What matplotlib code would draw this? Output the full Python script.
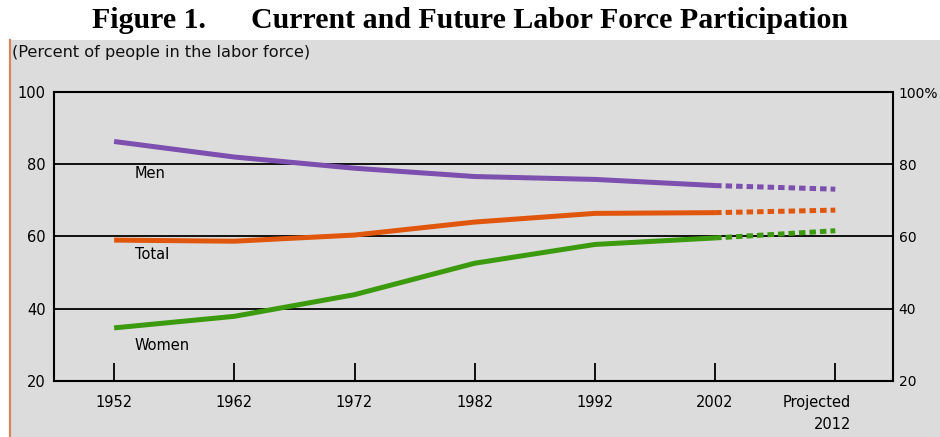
import matplotlib
matplotlib.use("Agg")
import matplotlib.pyplot as plt
from matplotlib.patches import Rectangle
from matplotlib.lines import Line2D

# data
years = [1952, 1962, 1972, 1982, 1992, 2002]
proj_years = [2002, 2012]
men = [86.3, 82.0, 78.9, 76.6, 75.8, 74.1]
men_proj = [74.1, 73.1]
total = [59.0, 58.7, 60.4, 64.0, 66.4, 66.6]
total_proj = [66.6, 67.3]
women = [34.7, 37.9, 43.9, 52.6, 57.8, 59.6]
women_proj = [59.6, 61.6]

xtick_pos = [1952, 1962, 1972, 1982, 1992, 2002, 2012]
xtick_labels = ["1952", "1962", "1972", "1982", "1992", "2002", ""]
proj_label = "Projected\n2012"
yticks = [20, 40, 60, 80, 100]
left_labels = ["20", "40", "60", "80", "100"]
right_labels = ["20", "40", "60", "80", "100%"]

c_men = "#7d4fae"
c_total = "#e0560c"
c_women = "#3c9a0e"
bg = "#dcdcdc"
sans = ["DejaVu Sans"]

fig = plt.figure(figsize=(9.4, 4.37), dpi=100)
fig.patch.set_facecolor("white")

# gray panel with orange left rule (behind the axes)
fig.patches.append(Rectangle((10 / 940, 0), 1, 397 / 437, transform=fig.transFigure,
                             facecolor=bg, edgecolor="none", zorder=-5))
fig.lines.append(Line2D([9.5 / 940, 9.5 / 940], [0, 397 / 437], transform=fig.transFigure,
                        color="#d9875a", lw=1.6, zorder=-4))

fig.text(0.5, 0.953, "Figure 1.      Current and Future Labor Force Participation",
         ha="center", va="center", fontsize=21.5, fontweight="bold",
         family=["Liberation Serif", "DejaVu Serif"])
fig.text(12 / 940, 0.881, "(Percent of people in the labor force)", ha="left", va="center",
         fontsize=11.6, family=sans, color="#111111")

ax = fig.add_axes([54 / 940, 56 / 437, 839 / 940, 289 / 437])
ax.set_facecolor(bg)
ax.set_xlim(1947, 2016.8)
ax.set_ylim(20, 100)

for y in [40, 60, 80]:
    ax.axhline(y, color="black", lw=1.3, zorder=1)

lw = 3.6
ax.plot(years, men, color=c_men, lw=lw, solid_capstyle="butt", zorder=3)
ax.plot(years, total, color=c_total, lw=lw, solid_capstyle="butt", zorder=3)
ax.plot(years, women, color=c_women, lw=lw, solid_capstyle="butt", zorder=3)
for yy, c in [(men_proj, c_men), (total_proj, c_total), (women_proj, c_women)]:
    ax.plot(proj_years, yy, color=c, lw=lw, dashes=(1.3, 0.8), dash_capstyle="butt", zorder=3)

ax.text(1953.7, 77.5, "Men", fontsize=10.5, family=sans, va="center")
ax.text(1953.7, 55.0, "Total", fontsize=10.5, family=sans, va="center")
ax.text(1953.7, 29.8, "Women", fontsize=10.5, family=sans, va="center")

for s in ax.spines.values():
    s.set_linewidth(1.5)
    s.set_color("black")

ax.set_xticks(xtick_pos)
ax.set_xticklabels(xtick_labels, family=sans, fontsize=10.5)
ax.tick_params(axis="x", direction="in", length=13, width=1.3, pad=10)
# projected label sits a little left of its tick, right-aligned lines
ax.annotate(proj_label, xy=(xtick_pos[-1], 0), xycoords=("data", "axes fraction"),
            xytext=(-13, -10), textcoords="offset points", ha="center", va="top",
            multialignment="right", fontsize=10.5, family=sans, linespacing=1.6,
            annotation_clip=False)

ax.set_yticks(yticks)
ax.set_yticklabels(left_labels, family=sans, fontsize=10.5)
ax.tick_params(axis="y", length=0, pad=6)
ax2 = ax.twinx()
ax2.set_ylim(20, 100)
ax2.set_yticks(yticks)
ax2.set_yticklabels(right_labels, family=sans, fontsize=10)
ax2.tick_params(axis="y", length=0, pad=4)
for s in ax2.spines.values():
    s.set_visible(False)

fig.savefig("out.png", dpi=100, facecolor=fig.get_facecolor())
